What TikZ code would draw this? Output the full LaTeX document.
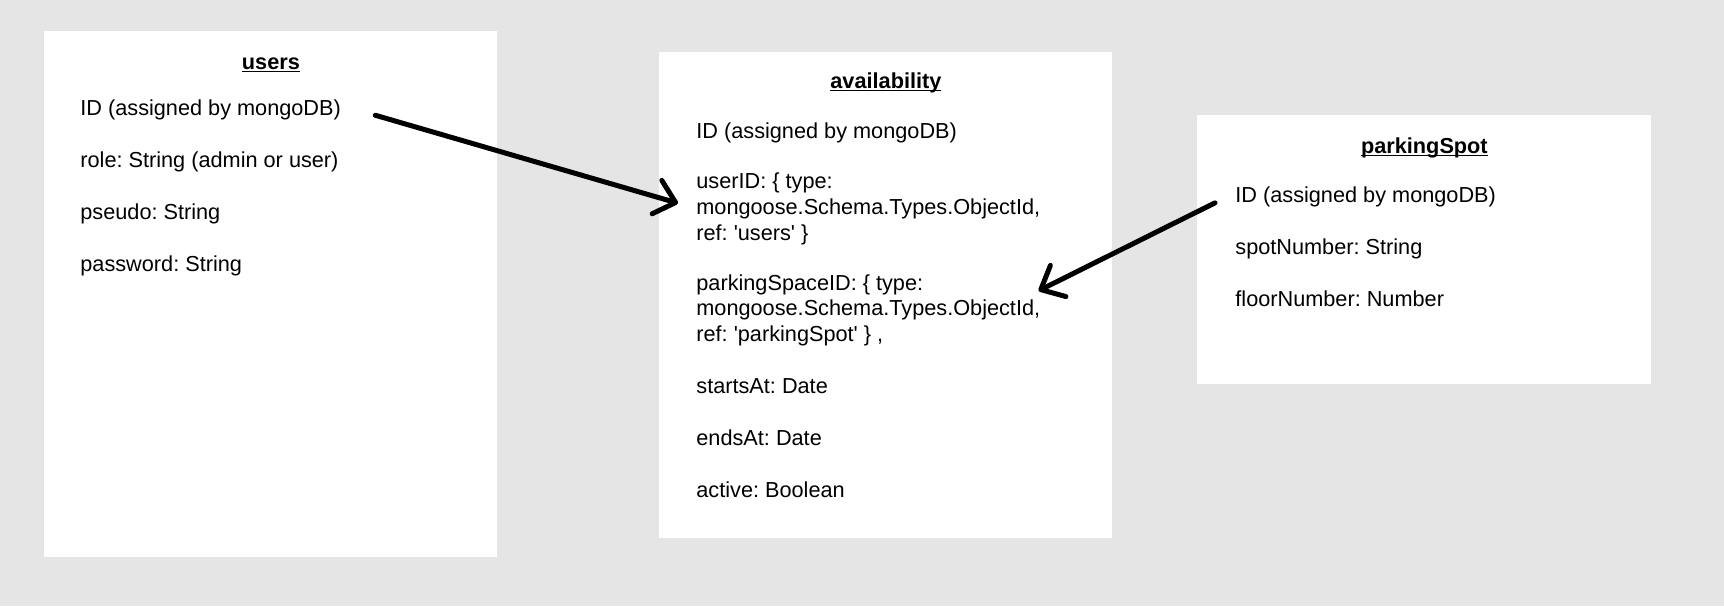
\documentclass[tikz,border=0pt]{standalone}
\usepackage{fontspec}
\usetikzlibrary{arrows.meta}
\newfontfamily\fieldfont{Liberation Sans}
\definecolor{bgGray}{HTML}{E5E5E5}
\newcommand{\tabname}[1]{\setbox0\hbox{\bfseries #1}\rlap{\rule[-1.4pt]{\wd0}{0.75pt}}\box0}

\begin{document}
\begin{tikzpicture}[x=.5pt, y=-.5pt, line join=round, line cap=round,
	font=\fieldfont\fontsize{10.85}{12.85}\selectfont\frenchspacing,
	table/.style={fill=white, inner sep=0pt, minimum width=226.5pt, anchor=north west},
	title/.style={inner sep=0pt, anchor=base},
	field/.style={align=left, inner sep=0pt, anchor=north west, execute at begin node=\strut, execute at end node=\strut},
	link/.style={line width=2.5pt, -{Straight Barb[length=9.7pt, width=17.4pt, round]}}]
		\fill[bgGray](0,0)rectangle(1724,606);
		% tables
		\node[table, minimum height=263pt](users) at (44,31){};
		\node[table, minimum height=243pt](avail) at (659,52){};
		\node[table, minimum height=134.5pt, minimum width=227pt](spot) at (1197,115){};
		\node[title](usersTitle) at ([yshift=-19.2pt]users.north){\tabname{users}};
		\node[title](availTitle) at ([yshift=-18.2pt]avail.north){\tabname{availability}};
		\node[title](spotTitle) at ([yshift=-19.2pt]spot.north){\tabname{parkingSpot}};
		% users fields
		\node[field](usersId) at ([xshift=18pt, yshift=-33.2pt]users.north west){ID (assigned by mongoDB)};
		\node[field](usersRole) at ([yshift=-12.75pt]usersId.south west){role: String (admin or user)};
		\node[field](usersPseudo) at ([yshift=-12.75pt]usersRole.south west){pseudo: String};
		\node[field](usersPwd) at ([yshift=-12.75pt]usersPseudo.south west){password: String};
		% availability fields
		\node[field](availId) at ([xshift=18.5pt, yshift=-34.2pt]avail.north west){ID (assigned by mongoDB)};
		\node[field](availUser) at ([yshift=-12.85pt]availId.south west){userID: \{ type:\\mongoose.Schema.Types.ObjectId,\\ref: \textquotesingle users\textquotesingle\ \}};
		\node[field](availSpace) at ([yshift=-12.85pt]availUser.south west){parkingSpaceID: \{ type:\\mongoose.Schema.Types.ObjectId,\\ref: \textquotesingle parkingSpot\textquotesingle\ \} ,};
		\node[field](availStart) at ([yshift=-12.85pt]availSpace.south west){startsAt: Date};
		\node[field](availEnd) at ([yshift=-12.85pt]availStart.south west){endsAt: Date};
		\node[field](availActive) at ([yshift=-12.75pt]availEnd.south west){active: Boolean};
		% parkingSpot fields
		\node[field](spotId) at ([xshift=19pt, yshift=-34.6pt]spot.north west){ID (assigned by mongoDB)};
		\node[field](spotNum) at ([yshift=-12.75pt]spotId.south west){spotNumber: String};
		\node[field](spotFloor) at ([yshift=-12.75pt]spotNum.south west){floorNumber: Number};
		% references
		\draw[link]([xshift=17pt, yshift=-2.3pt]usersId.east)--([xshift=-9pt, yshift=3.6pt]availUser.west);
		\draw[link]([xshift=-10pt, yshift=-2.7pt]spotId.west)--([xshift=-1pt, yshift=10.5pt]availSpace.east);
		
	\end{tikzpicture}
\end{document}
